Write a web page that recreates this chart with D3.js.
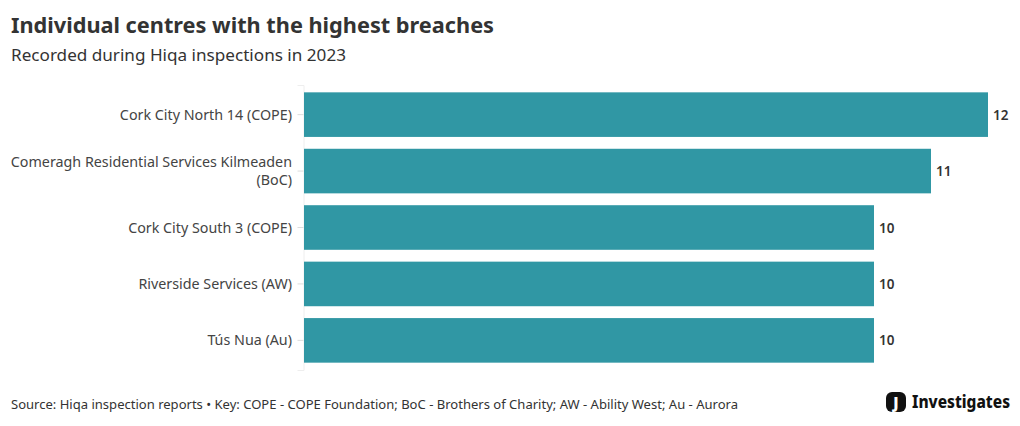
<!DOCTYPE html>
<html><head><meta charset="utf-8">
<script src="https://cdn.jsdelivr.net/npm/d3@7"></script>
<style>body{margin:0;background:#fff;}svg{display:block;font-family:"Noto Sans",sans-serif;}</style>
</head><body>
<svg id="chart" width="1020" height="426"></svg>
<script>
const categories = [
  ["Cork City North 14 (COPE)"],
  ["Comeragh Residential Services Kilmeaden", "(BoC)"],
  ["Cork City South 3 (COPE)"],
  ["Riverside Services (AW)"],
  ["Tús Nua (Au)"]
];
const values = [12, 11, 10, 10, 10];
const ids = categories.map((c,i)=>i);

const svg = d3.select("#chart");
svg.append("rect").attr("width",1020).attr("height",426).attr("fill","#fff");

svg.append("text").attr("x",11).attr("y",33).attr("font-size",22).attr("font-weight",700)
  .attr("fill","#333").attr("textLength",483).attr("lengthAdjust","spacingAndGlyphs")
  .text("Individual centres with the highest breaches");
svg.append("text").attr("x",11).attr("y",61).attr("font-size",17)
  .attr("fill","#333").attr("textLength",335).attr("lengthAdjust","spacingAndGlyphs")
  .text("Recorded during Hiqa inspections in 2023");

const x = d3.scaleLinear().domain([0,12]).range([304,988]);
const y = d3.scaleBand().domain(ids).range([85,370]).paddingInner(0.21).paddingOuter(0.13);

const axis = d3.axisLeft(y).tickSize(6).tickFormat("");
const gA = svg.append("g").attr("transform","translate(303.5,0)").call(axis);
gA.select(".domain").attr("stroke","#eeeeee");
gA.selectAll(".tick line").attr("stroke","#dddddd");

svg.append("g").selectAll("rect").data(values).join("rect")
  .attr("x",x(0)).attr("y",(d,i)=>y(i)).attr("width",d=>x(d)-x(0)).attr("height",y.bandwidth())
  .attr("fill","#3097a4");

svg.append("g").selectAll("text").data(values).join("text")
  .attr("x",d=>x(d)+5).attr("y",(d,i)=>y(i)+y.bandwidth()/2+5)
  .attr("font-size",13.5).attr("font-weight",600).attr("fill","#333").text(d=>d);

const lab = svg.append("g");
categories.forEach((lines,i)=>{
  const cy = y(i)+y.bandwidth()/2;
  const n = lines.length, lh = 18;
  lines.forEach((t,j)=>{
    lab.append("text").attr("x",292).attr("y",cy + (j-(n-1)/2)*lh + 5)
      .attr("text-anchor","end").attr("font-size",14.3).attr("fill","#444").text(t);
  });
});

svg.append("text").attr("x",11).attr("y",409).attr("font-size",13).attr("fill","#333")
  .attr("textLength",727).attr("lengthAdjust","spacingAndGlyphs")
  .text("Source: Hiqa inspection reports • Key: COPE - COPE Foundation; BoC - Brothers of Charity; AW - Ability West; Au - Aurora");

svg.append("rect").attr("x",886).attr("y",392).attr("width",20).attr("height",20).attr("rx",6).attr("fill","#111");
svg.append("text").attr("x",896).attr("y",408).attr("text-anchor","middle").attr("font-size",15).attr("font-weight",900).attr("fill","#fff").text("J");
svg.append("text").attr("x",912).attr("y",408).attr("font-size",17).attr("font-weight",800).attr("fill","#111")
  .attr("textLength",98).attr("lengthAdjust","spacingAndGlyphs").text("Investigates");
</script>
</body></html>
